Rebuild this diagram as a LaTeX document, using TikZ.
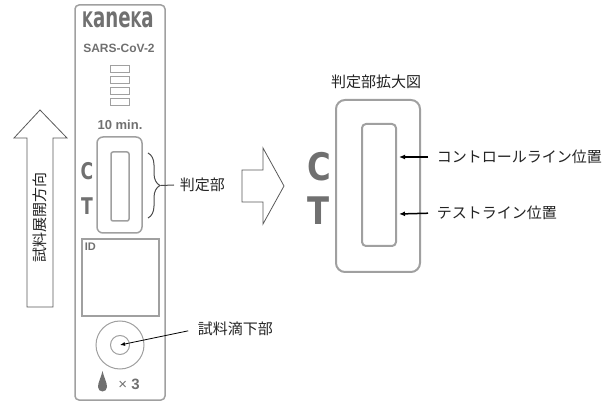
\documentclass[tikz,border=0pt]{standalone}
\usepackage{fontspec}
\setmainfont{Liberation Sans}
\newfontfamily\jp{Noto Sans CJK JP}
\newfontfamily\heavy{DejaVu Sans}
\usetikzlibrary{arrows.meta, decorations.pathreplacing}
\definecolor{stripgray}{HTML}{A0A0A0}
\definecolor{markgray}{HTML}{707070}
\definecolor{ink}{HTML}{222222}

\begin{document}
\begin{tikzpicture}[x=1pt, y=-1pt, line width=1.5pt,
	jtext/.style={font=\jp\fontsize{15}{15}\selectfont, text=ink, inner sep=0pt},
	printmark/.style={text=markgray, inner sep=0pt, font=\bfseries},
	frame/.style={draw=stripgray, line width=1.5pt},
	outline/.style={draw=black!65, line width=0.8pt}]
			\useasboundingbox (0,0) rectangle (616,403);
			% test strip
			\draw[frame, rounded corners=4pt] (75,5) rectangle (165,400);
			\node[printmark, font=\heavy\bfseries\fontsize{28}{28}\selectfont] (logo) at (118,20)
				{\scalebox{0.65}[1]{{\fontsize{21.5}{21.5}\selectfont K}ane{\fontsize{21.5}{21.5}\selectfont K}a}};
			\node[printmark, font=\bfseries\fontsize{12}{12}\selectfont] (virus) at (119,48) {SARS-CoV-2};
			\foreach \y in {66,77,88,99}
				\draw[frame, line width=1pt] (110,\y) rectangle (129,\y+7);
			\node[printmark, font=\bfseries\fontsize{13}{13}\selectfont] (timer) at (120,125) {10 min.};
			\draw[frame, rounded corners=6pt] (97,137) rectangle (142,233);
			\draw[frame, rounded corners=2pt] (111,152) rectangle (129,221);
			\node[printmark, font=\heavy\bfseries\fontsize{23}{23}\selectfont] (smallC) at (87,171) {\scalebox{0.75}[1]{C}};
			\node[printmark, font=\heavy\bfseries\fontsize{23}{23}\selectfont] (smallT) at (87,206) {\scalebox{0.75}[1]{T}};
			\draw[frame] (82,239) rectangle (159,316);
			\node[printmark, font=\bfseries\fontsize{11}{11}\selectfont, anchor=north west] (id) at (84,242) {ID};
			\draw[frame, line width=1pt] (120,345) circle [radius=24];
			\draw[frame, line width=1pt] (120,345) circle [radius=9.5];
			\coordinate (well) at (120,345);
			\fill[markgray] (102.5,371) .. controls (104,378) and (107,382) .. (107,387)
				arc[start angle=0, end angle=180, radius=4.5]
				.. controls (98,382) and (101,378) .. (102.5,371);
			\node[text=markgray, inner sep=0pt, font=\fontsize{15}{15}\selectfont] (times) at (129,384) {× \textbf{3}};
			% flow direction
			\draw[outline] (27,307) -- (27,138) -- (14,138) -- (40,110) -- (67,138) -- (53,138) -- (53,307) -- cycle;
			\node[jtext, rotate=90] (flow) at (40,218) {試料展開方向};
			% judgement area
			\draw[black!70, line width=1pt, decorate, decoration={brace, amplitude=12pt}] (148,153) -- (148,218);
			\coordinate (bracetip) at (161,185.5);
			\node[jtext, anchor=west] (judge) at (179,185) {判定部};
			\draw[black!70, line width=1pt] (bracetip) -- ([xshift=-5pt]judge.west);
			\node[jtext, anchor=west] (drop) at (197,329) {試料滴下部};
			\draw[line width=0.8pt, -{Latex[length=5pt, width=4pt]}, shorten <=9pt] (drop.west) -- (well);
			% enlarged view
			\draw[outline] (242,170) -- (263,170) -- (263,148) -- (284,186) -- (263,224) -- (263,202) -- (242,202) -- cycle;
			\node[jtext] (zoomtitle) at (376,82) {判定部拡大図};
			\draw[frame, line width=2pt, rounded corners=9pt] (336,100) rectangle (420,272);
			\draw[frame, line width=2pt, rounded corners=4pt] (362,124) rectangle (396,246);
			\node[printmark, font=\heavy\bfseries\fontsize{38}{38}\selectfont] (bigC) at (319,167) {\scalebox{0.85}[1]{C}};
			\node[printmark, font=\heavy\bfseries\fontsize{38}{38}\selectfont] (bigT) at (319,211) {\scalebox{0.85}[1]{T}};
			\coordinate (cline) at (399,157);
			\coordinate (tline) at (399,214);
			\node[jtext, anchor=west] (ctrl) at (436,157) {コントロールライン位置};
			\node[jtext, anchor=west] (test) at (436,213) {テストライン位置};
			\draw[-{Latex[length=6pt, width=5pt]}, shorten <=8pt] (ctrl.west) -- (cline);
			\draw[-{Latex[length=6pt, width=5pt]}, shorten <=8pt] (test.west) -- (tline);
\end{tikzpicture}
\end{document}
